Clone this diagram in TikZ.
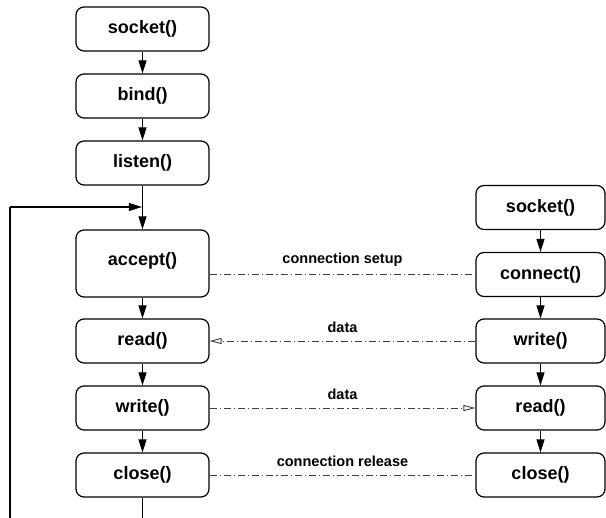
\documentclass[tikz,border=0pt]{standalone}
\usepackage{fontspec}
\setmainfont{Liberation Sans}
\usetikzlibrary{arrows.meta}
\tikzset{
  callbox/.style={draw, line width=1.2pt, rounded corners=8pt, font=\bfseries\fontsize{18}{21}\selectfont, inner sep=0pt},
  leftbox/.style={callbox, minimum width=133pt, minimum height=44pt},
  rightbox/.style={callbox, minimum width=129pt, minimum height=44pt},
  flow/.style={line width=1.1pt, -{Triangle[length=13pt,width=8pt]}},
  msg/.style={line width=0.8pt, draw=black!75, dash pattern=on 7pt off 3pt on 1.2pt off 3pt},
  msgarrow/.style={msg, -{Triangle[open,length=12pt,width=6pt,line width=0.9pt]}},
  msglabel/.style={font=\bfseries\fontsize{14.5}{17}\selectfont, inner sep=0pt}
}
\begin{document}
\begin{tikzpicture}[x=1pt,y=-1pt]
\useasboundingbox (0,0) rectangle (606,518);
% server
\node[leftbox] (ssock) at (142.5,29) {socket()};
\node[leftbox] (sbind) at (142.5,96) {bind()};
\node[leftbox] (slisten) at (142.5,163) {listen()};
\node[leftbox, minimum height=67pt] (saccept) at (142.5,263.5) {};
\node[font=\bfseries\fontsize{18}{21}\selectfont, inner sep=0pt] (sacceptlbl) at (142.5,261) {accept()};
\node[leftbox] (sread) at (142.5,341) {read()};
\node[leftbox] (swrite) at (142.5,408) {write()};
\node[leftbox] (sclose) at (142.5,475) {close()};
% client
\node[rightbox] (csock) at (540.5,207.5) {socket()};
\node[rightbox] (cconn) at (540.5,274.5) {connect()};
\node[rightbox] (cwrite) at (540.5,341) {write()};
\node[rightbox] (cread) at (540.5,408) {read()};
\node[rightbox] (cclose) at (540.5,475) {close()};
% loop points
\coordinate (join) at (142.5,207);
\coordinate (loopbl) at (10,518.3);
\coordinate (loopbr) at (142.5,518.3);
\coordinate (looptl) at (10,207);
% server flow
\draw[flow] (ssock) -- (sbind);
\draw[flow] (sbind) -- (slisten);
\draw[flow] (slisten) -- (saccept);
\draw[flow] (saccept) -- (sread);
\draw[flow] (sread) -- (swrite);
\draw[flow] (swrite) -- (sclose);
\draw[line width=1.1pt] (sclose.south) -- (loopbr) -- (loopbl) -- (looptl);
\draw[flow, shorten >=0.6pt] (looptl) -- (join);
% client flow
\draw[flow] (csock) -- (cconn);
\draw[flow] (cconn) -- (cwrite);
\draw[flow] (cwrite) -- (cread);
\draw[flow] (cread) -- (cclose);
% messages
\draw[msg] (saccept.east |- cconn) -- node[msglabel, above=8pt] {connection setup} (cconn.west);
\draw[msgarrow] (cwrite.west) -- node[msglabel, above=8pt] {data} (sread.east);
\draw[msgarrow] (swrite.east) -- node[msglabel, above=8pt] {data} (cread.west);
\draw[msg] (sclose.east) -- node[msglabel, above=8pt] {connection release} (cclose.west);
\end{tikzpicture}
\end{document}
